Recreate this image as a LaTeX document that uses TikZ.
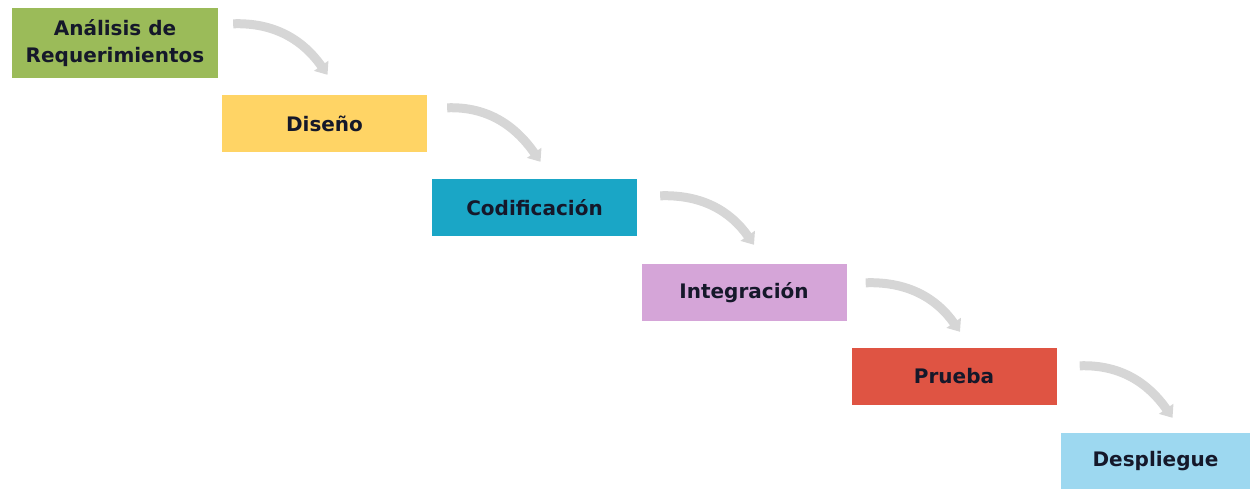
\documentclass[tikz,border=0pt]{standalone}
\usepackage{fontspec}
\setmainfont{DejaVu Sans}
\usepackage{xcolor}
\usepackage{tikz}
\usetikzlibrary{arrows.meta,calc}

\definecolor{verde}{HTML}{9BBB59}
\definecolor{amarillo}{HTML}{FFD465}
\definecolor{turquesa}{HTML}{1AA6C6}
\definecolor{lila}{HTML}{D5A5D8}
\definecolor{rojo}{HTML}{DF5443}
\definecolor{celeste}{HTML}{9DD8F0}
\definecolor{texto}{HTML}{15182A}
\definecolor{flecha}{HTML}{D6D6D6}

\begin{document}
\begin{tikzpicture}[x=1pt, y=1pt,
    fase/.style={minimum width=205pt, minimum height=57pt, inner sep=0pt,
        align=center, text=texto, font=\fontsize{20}{27}\selectfont\bfseries},
    flujo/.style={draw=flecha, line width=9pt,
        -{Triangle[width=17pt, length=11pt]}}]
    \useasboundingbox (0,0) rectangle (1252,-490);

    % fases
    \node[fase, fill=verde, minimum width=206pt, minimum height=70pt] (analisis) at (115,-43) {Análisis de\\Requerimientos};
    \node[fase, fill=amarillo] (diseno) at (324.5,-123.5) {Diseño};
    \node[fase, fill=turquesa] (codificacion) at (534.5,-207.5) {Codificación};
    \node[fase, fill=lila] (integracion) at (744,-292.5) {Integración};
    \node[fase, fill=rojo] (prueba) at (954,-376.5) {Prueba};
    \node[fase, fill=celeste, minimum width=189pt, minimum height=56pt] (despliegue) at (1155.5,-461) {Despliegue};

    % flechas
    \draw[flujo] ($(analisis.north east)+(15,-16)$) to[out=2, in=125] ($(diseno.north)+(3,20)$);
    \draw[flujo] ($(diseno.north east)+(20,-13)$) to[out=2, in=125] ($(codificacion.north)+(6,17)$);
    \draw[flujo] ($(codificacion.north east)+(23,-17)$) to[out=2, in=125] ($(integracion.north)+(10,19)$);
    \draw[flujo] ($(integracion.north east)+(19,-19)$) to[out=2, in=125] ($(prueba.north)+(6,16)$);
    \draw[flujo] ($(prueba.north east)+(23,-18)$) to[out=2, in=125] ($(despliegue.north)+(17,15)$);
\end{tikzpicture}
\end{document}
